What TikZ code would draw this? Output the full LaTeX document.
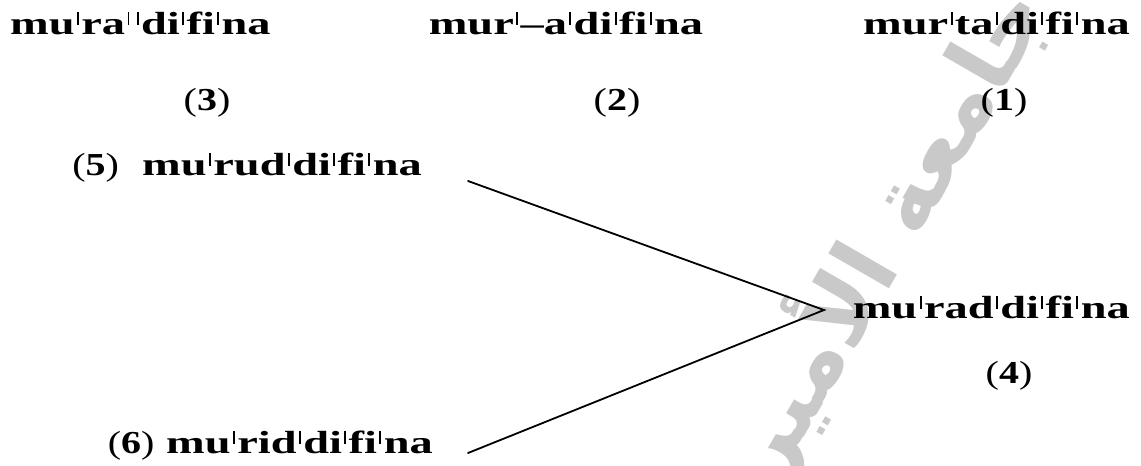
\documentclass[tikz,border=0pt]{standalone}
\usepackage{fontspec}
\setmainfont{Liberation Serif}[FakeStretch=1.45]
\newfontfamily\numfont{Liberation Serif}[FakeStretch=1.25]
\newfontfamily\arabicfont[Script=Arabic]{DejaVu Sans}
\TeXXeTstate=1
% primary stress mark: a thin raised bar set tight between letters
\newcommand\strs{\kern0.075em\rule[0.29em]{0.06em}{0.4em}\kern0.075em}
% a bracketed example number: light brackets, bold digit
\newcommand\exno[1]{{\numfont\mdseries(\textbf{#1})}}
\begin{document}
\begin{tikzpicture}[x=1pt,y=-1pt,
  word/.style={font=\fontsize{32}{35}\selectfont\bfseries, inner sep=0pt},
  num/.style={font=\fontsize{32}{35}\selectfont, inner sep=0pt, anchor=base},
  link/.style={line width=1.8pt, line cap=round}]
\useasboundingbox (0,0) rectangle (1141,466);
% faint university watermark
\node[rotate=60, text=black!21, inner sep=0pt,
      font=\arabicfont\bfseries\fontsize{92}{96}\selectfont] (wm) at (885,232)
      {\beginR جامعة الأمير\endR};
% top row of forms with their numbers
\node[word, anchor=base west] (w3) at (10,34) {mu\strs ra\strs\kern0.08em\strs di\strs fi\strs na};
\node[word, anchor=base] (w2) at (566,34) {mur\strs–a\strs di\strs fi\strs na};
\node[word, anchor=base east] (w1) at (1130,34) {mur\strs ta\strs di\strs fi\strs na};
\node[num] (n3) at (207,110) {\exno{3}};
\node[num] (n2) at (617,110) {\exno{2}};
\node[num] (n1) at (1004,110) {\exno{1}};
% the two source forms and the merged form
\node[word, anchor=base east] (w5) at (422,175) {\exno{5}\ \ mu\strs rud\strs di\strs fi\strs na};
\node[word, anchor=base east] (w6) at (433,453) {\exno{6} mu\strs rid\strs di\strs fi\strs na};
\node[word, anchor=base east] (w4) at (1130,318) {mu\strs rad\strs di\strs fi\strs na};
\node[num] (n4) at (1009,383) {\exno{4}};
% converging lines
\coordinate (s5) at (468,181);
\coordinate (s6) at (468,453);
\coordinate (apex) at (824,310);
\draw[link] (s5) -- (apex) -- (s6);
\end{tikzpicture}
\end{document}
